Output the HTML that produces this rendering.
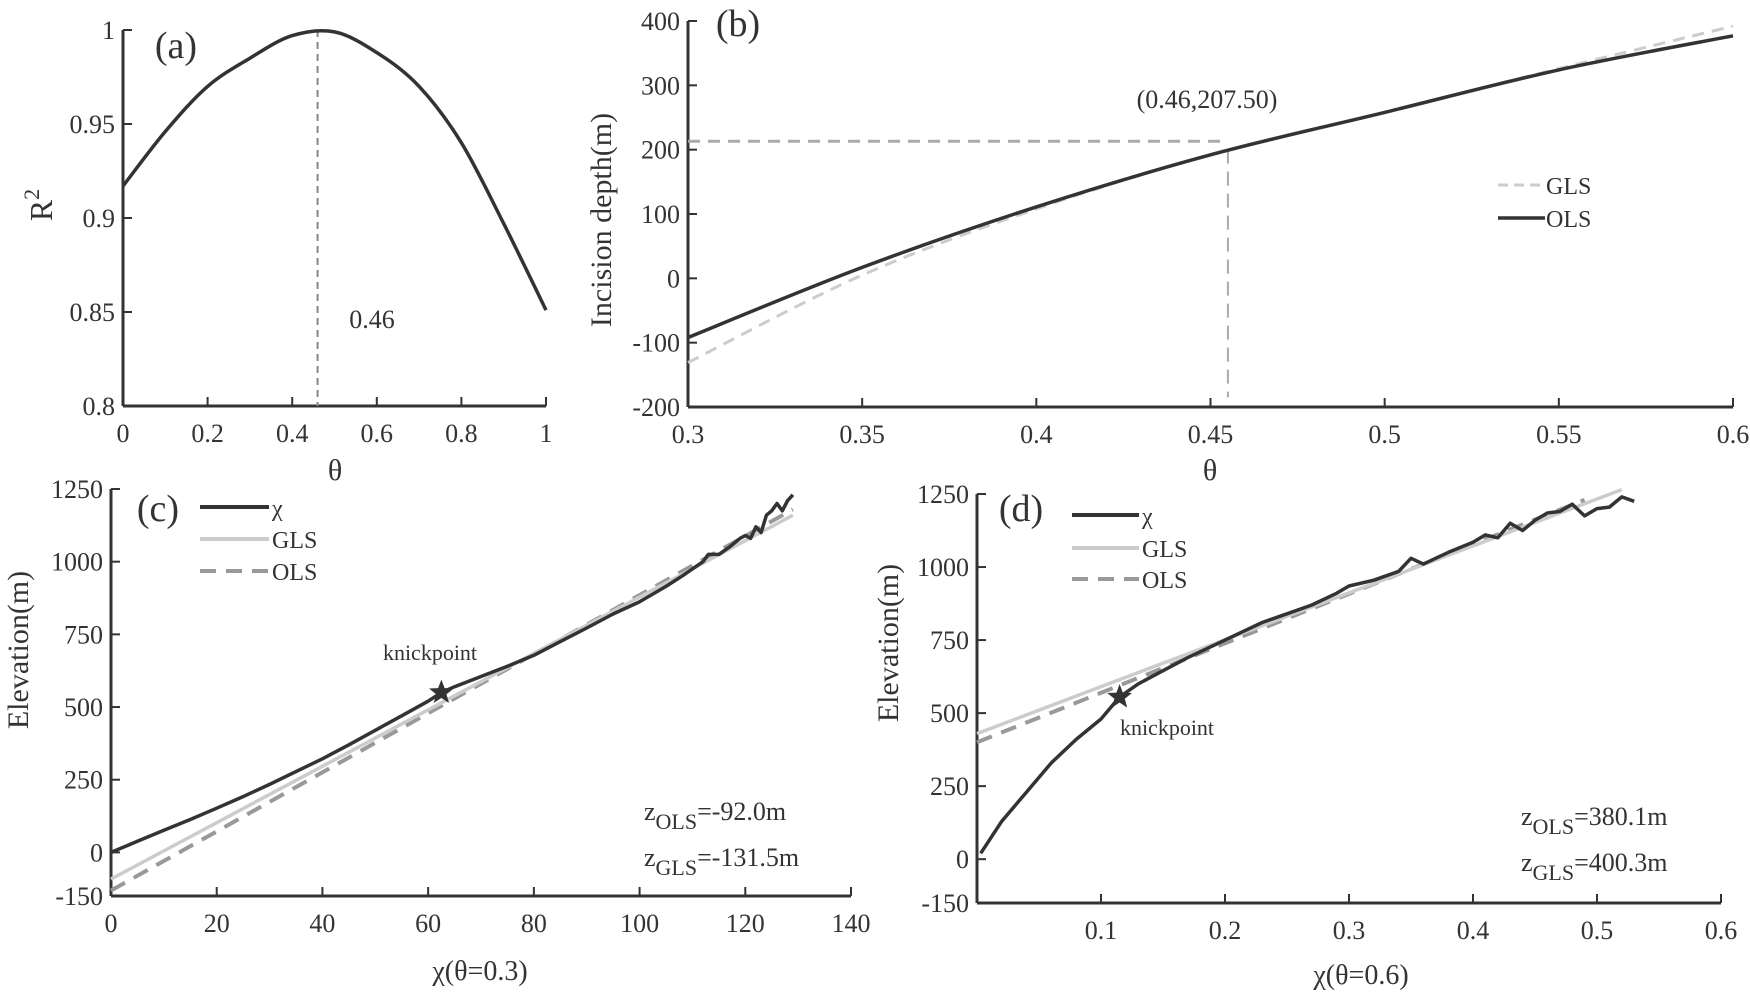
<!DOCTYPE html>
<html><head><meta charset="utf-8"><style>
html,body{margin:0;padding:0;background:#fff}
svg{display:block}
text{font-family:"Liberation Serif",serif;fill:#333}
</style></head><body>
<svg id="fig" width="1750" height="992" viewBox="0 0 1750 992" xmlns="http://www.w3.org/2000/svg"></svg>
<script>
// ---------- data ----------
const aTheta=[0,0.1,0.2,0.3,0.4,0.5,0.6,0.7,0.8,0.9,1.0];
const aR2=[0.917,0.946,0.970,0.985,0.997,0.999,0.988,0.970,0.940,0.897,0.851];
const aXTicks=[0,0.2,0.4,0.6,0.8,1];
const aYTicks=[0.8,0.85,0.9,0.95,1];
const aYTickLabels=["0.8","0.85","0.9","0.95","1"];

const bTheta=[0.3,0.35,0.4,0.45,0.5,0.55,0.6];
const bOLS=[-92,17,111,192,258,324,377];
const bGLS=[-131,5,108,192,258,326,392];
const bXTicks=[0.3,0.35,0.4,0.45,0.5,0.55,0.6];
const bYTicks=[-200,-100,0,100,200,300,400];

const cChi=[0,5,10,15,20,25,30,35,40,45,50,55,60,62.5,65,70,75,80,85,90,95,100,105,108,110,112,113,115,117,119,120,121,122,123,124,125,126,127,128,129];
const cElev=[0,38,76,113,152,192,234,278,322,370,420,470,520,550,570,605,640,678,725,772,820,862,915,950,975,1000,1025,1025,1050,1080,1090,1080,1120,1100,1160,1175,1200,1175,1210,1230];
const cGLSx=[0,129]; const cGLSy=[-92,1160];
const cOLSx=[0,129]; const cOLSy=[-131,1180];
const cXTicks=[0,20,40,60,80,100,120,140];
const elevTicks=[-150,0,250,500,750,1000,1250];

const dChi=[0.003,0.02,0.04,0.06,0.08,0.1,0.115,0.13,0.15,0.17,0.19,0.21,0.23,0.25,0.27,0.29,0.3,0.32,0.34,0.35,0.36,0.38,0.4,0.41,0.42,0.43,0.44,0.45,0.46,0.47,0.48,0.49,0.5,0.51,0.52,0.53];
const dElev=[20,130,230,330,410,480,555,600,645,690,730,770,810,840,870,910,935,955,985,1030,1010,1050,1085,1110,1100,1150,1125,1160,1185,1190,1215,1175,1200,1205,1240,1225];
const dGLSx=[0,0.52]; const dGLSy=[430,1265];
const dOLSx=[0,0.49]; const dOLSy=[400,1230];
const dXTicks=[0.1,0.2,0.3,0.4,0.5,0.6];

// ---------- helpers ----------
const NS="http://www.w3.org/2000/svg";
const svg=document.getElementById('fig');
function mk(tag,attrs,parent){const e=document.createElementNS(NS,tag);for(const k in attrs)e.setAttribute(k,attrs[k]);(parent||svg).appendChild(e);return e;}
function txt(x,y,s,size,anchor,parent){const t=mk('text',{x:x,y:y,'font-size':size,'text-anchor':anchor||'middle'},parent);t.textContent=s;return t;}
function scale(d0,d1,r0,r1){return v=>r0+(v-d0)/(d1-d0)*(r1-r0);}
function poly(xs,ys,sx,sy){return xs.map((v,i)=>sx(v).toFixed(1)+','+sy(ys[i]).toFixed(1)).join(' ');}
function smooth(xs,ys,sx,sy){
  const p=xs.map((v,i)=>[sx(v),sy(ys[i])]);
  let d='M'+p[0][0].toFixed(1)+','+p[0][1].toFixed(1);
  for(let i=0;i<p.length-1;i++){
    const p0=p[i-1]||p[i],p1=p[i],p2=p[i+1],p3=p[i+2]||p2;
    const c1=[p1[0]+(p2[0]-p0[0])/6,p1[1]+(p2[1]-p0[1])/6];
    const c2=[p2[0]-(p3[0]-p1[0])/6,p2[1]-(p3[1]-p1[1])/6];
    d+=' C'+c1.map(v=>v.toFixed(1)).join(',')+' '+c2.map(v=>v.toFixed(1)).join(',')+' '+p2[0].toFixed(1)+','+p2[1].toFixed(1);
  }
  return d;
}
function axes(g,x0,x1,y0,y1,sx,sy,xt,xl,yt,yl){
  mk('line',{x1:x0,y1:y1,x2:x0,y2:y0,stroke:'#333','stroke-width':3},g);
  mk('line',{x1:x0,y1:y1,x2:x1,y2:y1,stroke:'#333','stroke-width':3},g);
  xt.forEach((v,i)=>{const x=sx(v);mk('line',{x1:x,y1:y1,x2:x,y2:y1-9,stroke:'#333','stroke-width':2},g);
    const t=txt(x,y1+36,xl[i],26,'middle',g);});
  yt.forEach((v,i)=>{const y=sy(v);mk('line',{x1:x0,y1:y,x2:x0+9,y2:y,stroke:'#333','stroke-width':2},g);
    const t=txt(x0-8,y+9,yl[i],26,'end',g);});
}
function star(g,cx,cy,r){let p=[];for(let i=0;i<10;i++){const a=-Math.PI/2+i*Math.PI/5;const rr=i%2?r*0.42:r;p.push((cx+rr*Math.cos(a)).toFixed(1)+','+(cy+rr*Math.sin(a)).toFixed(1));}
  return mk('polygon',{points:p.join(' '),fill:'#333'},g);}

// ---------- panel a ----------
{
const g=mk('g',{});


const sx=scale(0,1,123,546), sy=scale(0.8,1,406,30);
axes(g,123,546,30,406,sx,sy,aXTicks,aXTicks.map(String),aYTicks,aYTickLabels);
const vl=mk('line',{x1:sx(0.46),y1:sy(1),x2:sx(0.46),y2:406,stroke:'#888','stroke-width':2,'stroke-dasharray':'7,5'},g);


const c=mk('path',{d:smooth(aTheta,aR2,sx,sy),fill:'none',stroke:'#333','stroke-width':3.5},g);


txt(372,328,'0.46',26,'middle',g);
const pl=txt(176,58,'(a)',38,'middle',g);

const yl=mk('text',{x:0,y:0,'font-size':32,'text-anchor':'middle',transform:'translate(52,205) rotate(-90)'},g);
yl.innerHTML='R<tspan dy="-13" font-size="22">2</tspan>';


const xl=txt(335,480,'θ',30,'middle',g);

}

// ---------- panel b ----------
{
const g=mk('g',{});


const sx=scale(0.3,0.6,688,1733), sy=scale(-200,400,407,21);
axes(g,688,1733,21,407,sx,sy,bXTicks,bXTicks.map(String),bYTicks,bYTicks.map(String));
const h=mk('line',{x1:688,y1:sy(213),x2:sx(0.455),y2:sy(213),stroke:'#aaa','stroke-width':3,'stroke-dasharray':'12,8'},g);

const v=mk('line',{x1:sx(0.455),y1:sy(200),x2:sx(0.455),y2:sy(-185),stroke:'#aaa','stroke-width':2,'stroke-dasharray':'14,8'},g);

const gl=mk('path',{d:smooth(bTheta,bGLS,sx,sy),fill:'none',stroke:'#ccc','stroke-width':3,'stroke-dasharray':'12,8'},g);


const ol=mk('path',{d:smooth(bTheta,bOLS,sx,sy),fill:'none',stroke:'#333','stroke-width':3.5},g);


txt(1207,108,'(0.46,207.50)',26,'middle',g);
txt(738,36,'(b)',38,'middle',g);
mk('line',{x1:1498,y1:185,x2:1545,y2:185,stroke:'#ccc','stroke-width':3,'stroke-dasharray':'10,6'},g);
const le1=txt(1546,194,'GLS',24,'start',g);


mk('line',{x1:1498,y1:218,x2:1545,y2:218,stroke:'#333','stroke-width':3.5},g);
const le2=txt(1546,227,'OLS',24,'start',g);


const yl=mk('text',{x:0,y:0,'font-size':30,'text-anchor':'middle',fill:'#555',transform:'translate(611,220) rotate(-90)'},g);
yl.textContent='Incision depth(m)';


txt(1210,480,'θ',30,'middle',g);
}

// ---------- panel c ----------
{
const g=mk('g',{});


const sx=scale(0,140,111,851), sy=scale(-150,1250,896,489);
axes(g,111,851,489,896,sx,sy,cXTicks,cXTicks.map(String),elevTicks,elevTicks.map(String));
const o=mk('polyline',{points:poly(cOLSx,cOLSy,sx,sy),fill:'none',stroke:'#999','stroke-width':4,'stroke-dasharray':'16,10'},g);

const gl=mk('polyline',{points:poly(cGLSx,cGLSy,sx,sy),fill:'none',stroke:'#ccc','stroke-width':3.5},g);

const ch=mk('polyline',{points:poly(cChi,cElev,sx,sy),fill:'none',stroke:'#333','stroke-width':3.5,'stroke-linejoin':'round'},g);


const st=star(g,sx(62.5),sy(550),13);


txt(430,660,'knickpoint',22,'middle',g);
txt(158,521,'(c)',38,'middle',g);
mk('line',{x1:200,y1:507,x2:269,y2:507,stroke:'#333','stroke-width':4},g);
txt(272,516,'χ',24,'start',g);
mk('line',{x1:200,y1:539,x2:269,y2:539,stroke:'#ccc','stroke-width':4},g);
txt(272,548,'GLS',24,'start',g);
mk('line',{x1:200,y1:571,x2:269,y2:571,stroke:'#999','stroke-width':4,'stroke-dasharray':'16,10'},g);
txt(272,580,'OLS',24,'start',g);
const z1=mk('text',{x:644,y:820,'font-size':26,'text-anchor':'start'},g);
z1.innerHTML='z<tspan dy="9" font-size="22">OLS</tspan><tspan dy="-9">=-92.0m</tspan>';
const z2=mk('text',{x:644,y:866,'font-size':26,'text-anchor':'start'},g);
z2.innerHTML='z<tspan dy="9" font-size="22">GLS</tspan><tspan dy="-9">=-131.5m</tspan>';
const yl=mk('text',{x:0,y:0,'font-size':30,'text-anchor':'middle',fill:'#555',transform:'translate(28,650) rotate(-90)'},g);
yl.textContent='Elevation(m)';


txt(480,980,'χ(θ=0.3)',28,'middle',g);
}

// ---------- panel d ----------
{
const g=mk('g',{});


const sx=scale(0,0.6,977,1721), sy=scale(-150,1250,903,494);
axes(g,977,1721,494,903,sx,sy,dXTicks,dXTicks.map(String),elevTicks,elevTicks.map(String));
const o=mk('polyline',{points:poly(dOLSx,dOLSy,sx,sy),fill:'none',stroke:'#999','stroke-width':4,'stroke-dasharray':'16,10'},g);

const gl=mk('polyline',{points:poly(dGLSx,dGLSy,sx,sy),fill:'none',stroke:'#ccc','stroke-width':3.5},g);

const ch=mk('polyline',{points:poly(dChi,dElev,sx,sy),fill:'none',stroke:'#333','stroke-width':3.5,'stroke-linejoin':'round'},g);


const st=star(g,sx(0.115),sy(555),13);


txt(1167,735,'knickpoint',22,'middle',g);
txt(1021,521,'(d)',38,'middle',g);
mk('line',{x1:1072,y1:515,x2:1139,y2:515,stroke:'#333','stroke-width':4},g);
txt(1142,524,'χ',24,'start',g);
mk('line',{x1:1072,y1:548,x2:1139,y2:548,stroke:'#ccc','stroke-width':4},g);
txt(1142,557,'GLS',24,'start',g);
mk('line',{x1:1072,y1:579,x2:1139,y2:579,stroke:'#999','stroke-width':4,'stroke-dasharray':'16,10'},g);
txt(1142,588,'OLS',24,'start',g);
const z1=mk('text',{x:1521,y:825,'font-size':26,'text-anchor':'start'},g);
z1.innerHTML='z<tspan dy="9" font-size="22">OLS</tspan><tspan dy="-9">=380.1m</tspan>';
const z2=mk('text',{x:1521,y:871,'font-size':26,'text-anchor':'start'},g);
z2.innerHTML='z<tspan dy="9" font-size="22">GLS</tspan><tspan dy="-9">=400.3m</tspan>';
const yl=mk('text',{x:0,y:0,'font-size':30,'text-anchor':'middle',fill:'#555',transform:'translate(898,643) rotate(-90)'},g);
yl.textContent='Elevation(m)';


txt(1361,984,'χ(θ=0.6)',28,'middle',g);
}
</script>
</body></html>
